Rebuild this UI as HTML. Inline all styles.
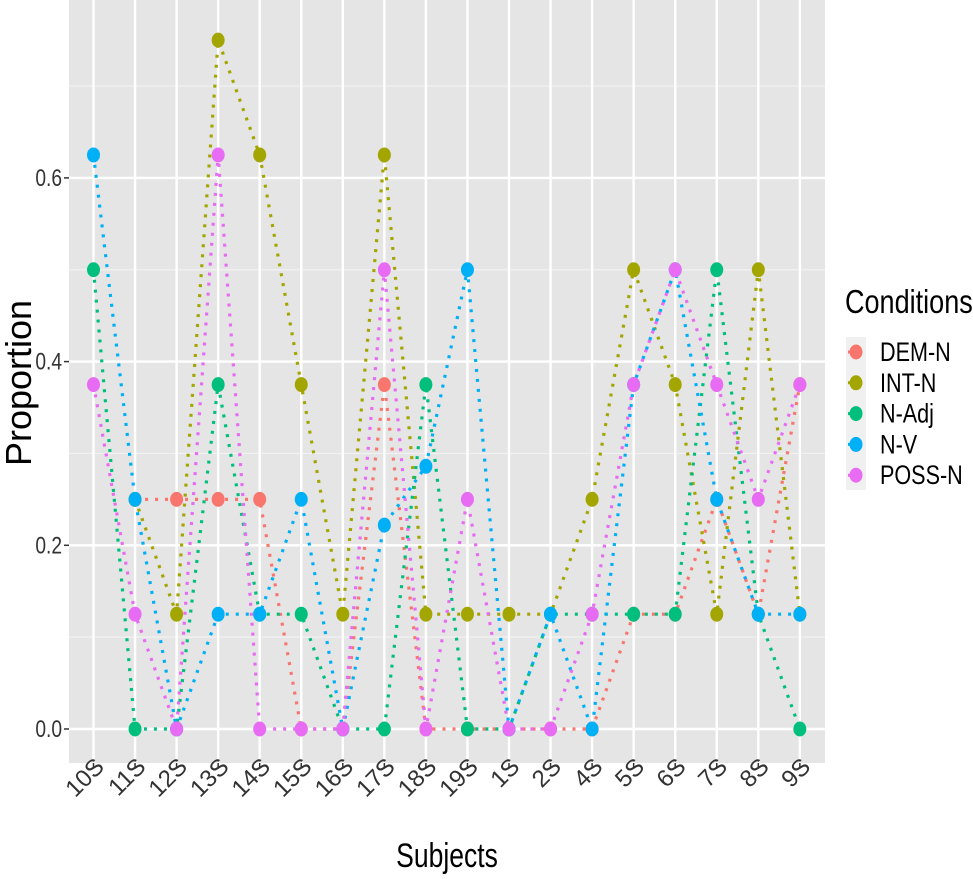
<!DOCTYPE html>
<html><head><meta charset="utf-8"><style>
html,body{margin:0;padding:0;background:#fff;}
svg{display:block;font-family:"Liberation Sans",sans-serif;}
</style></head><body>
<svg id="chart" width="973" height="879" viewBox="0 0 973 879">
<rect x="0" y="0" width="973" height="879" fill="#fff"/>
<rect id="panel" x="69" y="0" width="756" height="763" fill="#e5e5e5"/>
<g id="grid"></g>
<g id="series"></g>
<g id="axes"></g>
<text x="31" y="383" font-size="36" text-anchor="middle" transform="rotate(-90 31 383)" fill="#000">Proportion</text>
<text x="447" y="867" font-size="34" text-anchor="middle" fill="#000" transform="translate(447 0) scale(0.78 1) translate(-447 0)">Subjects</text>
<g id="legend">
<text x="845" y="313" font-size="33" fill="#000" transform="translate(845 0) scale(0.82 1) translate(-845 0)">Conditions</text>
<rect x="846" y="337" width="20" height="153" fill="#f0f0f0"/>
</g>
</svg>
<script>
const categories = ["10S","11S","12S","13S","14S","15S","16S","17S","18S","19S","1S","2S","4S","5S","6S","7S","8S","9S"];
const seriesNames = ["DEM-N","INT-N","N-Adj","N-V","POSS-N"];
const seriesColors = ["#f8766d","#a3a500","#00bf7d","#00b0f6","#e76bf3"];
const demN  = [null,0.25,0.25,0.25,0.25,0,0,0.375,0,0,0,0,0,0.125,0.125,0.25,0.125,0.375];
const intN  = [null,0.25,0.125,0.75,0.625,0.375,0.125,0.625,0.125,0.125,0.125,0.125,0.25,0.5,0.375,0.125,0.5,0.125];
const nAdj  = [0.5,0,0,0.375,0.125,0.125,0,0,0.375,0,0,0.125,0.125,0.125,0.125,0.5,0.125,0];
const nV    = [0.625,0.25,0,0.125,0.125,0.25,0,0.222,0.286,0.5,0,0.125,0,0.375,0.5,0.25,0.125,0.125];
const possN = [0.375,0.125,0,0.625,0,0,0,0.5,0,0.25,0,0,0.125,0.375,0.5,0.375,0.25,0.375];
const yTicks = [0,0.2,0.4,0.6];
const yTickLabels = ["0.0","0.2","0.4","0.6"];
const allSeries = [demN,intN,nAdj,nV,possN];

const NS="http://www.w3.org/2000/svg";
const x0=93.5, xStep=41.55;
function xs(i){return x0+i*xStep;}
function ys(v){return 729-v*918.5;}
function mk(tag,attrs,parent){const e=document.createElementNS(NS,tag);for(const k in attrs)e.setAttribute(k,attrs[k]);parent.appendChild(e);return e;}

const grid=document.getElementById('grid');
for(let v=0.1;v<0.8;v+=0.2){const l=mk('line',{x1:69,x2:825,y1:ys(v),y2:ys(v),stroke:'#f2f2f2','stroke-width':1.2},grid);

}
yTicks.forEach(v=>{const l=mk('line',{x1:69,x2:825,y1:ys(v),y2:ys(v),stroke:'#fff','stroke-width':2.4},grid);

});
categories.forEach((c,i)=>{const l=mk('line',{x1:xs(i),x2:xs(i),y1:0,y2:763,stroke:'#fff','stroke-width':2.4},grid);

});

const sg=document.getElementById('series');
allSeries.forEach((vals,s)=>{
  const g=mk('g',{},sg);
  
  
  let d='';let started=false;
  vals.forEach((v,i)=>{if(v===null){started=false;return;}d+=(started?'L':'M')+xs(i)+' '+ys(v)+' ';started=true;});
  const p=mk('path',{d:d,fill:'none',stroke:seriesColors[s],'stroke-width':3.2,'stroke-dasharray':'3 7'},g);
  
  
  vals.forEach((v,i)=>{if(v===null)return;
    const c=mk('ellipse',{cx:xs(i),cy:ys(v),rx:6.5,ry:7.5,fill:seriesColors[s]},g);
    
    
  });
});

const ax=document.getElementById('axes');
yTicks.forEach((v,i)=>{
  mk('line',{x1:64,x2:69,y1:ys(v),y2:ys(v),stroke:'#333','stroke-width':1.5},ax);
  const t=mk('text',{x:62,y:ys(v)+8,'font-size':24,'text-anchor':'end',fill:'#333',transform:`translate(62 0) scale(0.8 1) translate(-62 0)`},ax);
  t.textContent=yTickLabels[i];
  
  
});
categories.forEach((c,i)=>{
  const x=xs(i);
  mk('line',{x1:x,x2:x,y1:763,y2:768,stroke:'#333','stroke-width':1.5},ax);
  const t=mk('text',{x:x+12,y:768,'font-size':24,'text-anchor':'end',fill:'#333',transform:`rotate(-45 ${x+12} 768)`},ax);
  t.textContent=c;
  
  
});

const lg=document.getElementById('legend');
seriesNames.forEach((n,s)=>{
  const y=352+s*30.8;
  const g=mk('g',{},lg);
  
  
  mk('line',{x1:848,x2:864,y1:y,y2:y,stroke:seriesColors[s],'stroke-width':3,'stroke-dasharray':'2 4'},g);
  mk('ellipse',{cx:856,cy:y,rx:6.5,ry:7.5,fill:seriesColors[s]},g);
  const t=mk('text',{x:880,y:y+9,'font-size':27,fill:'#000',transform:`translate(880 0) scale(0.8 1) translate(-880 0)`},g);
  t.textContent=n;
});
</script>
</body></html>
